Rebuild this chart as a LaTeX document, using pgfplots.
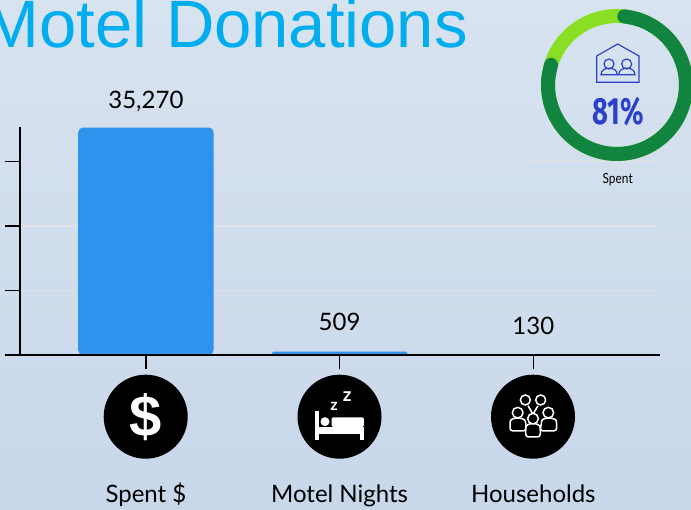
\documentclass[border=0pt]{standalone}
\usepackage{fontspec}
\usepackage{graphicx}
\usepackage{pgfplots}
\pgfplotsset{compat=1.18}
\usepgfplotslibrary{polar}
\setmainfont{Lato}
\newfontfamily\titlefont{Liberation Sans}
\newfontfamily\pctfont{Fira Sans}

\definecolor{bartop}{RGB}{216,227,240}
\definecolor{barbottom}{RGB}{200,215,234}
\definecolor{barblue}{RGB}{46,147,236}
\definecolor{titlecyan}{RGB}{0,174,239}
\definecolor{ringdark}{RGB}{17,132,63}
\definecolor{ringlight}{RGB}{138,222,36}
\definecolor{iconblue}{RGB}{43,66,200}
\definecolor{gridgrey}{RGB}{222,225,230}

\begin{document}
\begin{tikzpicture}
\useasboundingbox (0,0) rectangle (691pt,510pt);
\clip (0,0) rectangle (691pt,510pt);
\shade[top color=bartop,bottom color=barbottom] (0,0) rectangle (691pt,510pt);
\draw[gridgrey,line width=0.6pt] (530pt,349.5pt) -- (660pt,349.5pt);

\node[anchor=base east,text=titlecyan,inner sep=0pt] at (468pt,462pt) {\titlefont\fontsize{67}{67}\selectfont Motel Donations};

% grid underneath
\begin{axis}[
  at={(20pt,155pt)},
  anchor=south west,
  scale only axis,
  width=637pt,
  height=228pt,
  axis line style={draw=none},
  xmin=-0.65,xmax=2.639,
  ymin=0,ymax=35350,
  xtick=\empty,
  ytick={10000,20000,30000},
  yticklabels={},
  scaled y ticks=false,
  ymajorgrids,
  grid style={gridgrey,line width=1.2pt},
  major tick length=0pt,
]
\end{axis}

\begin{axis}[
  axis on top,
  at={(20pt,155pt)},
  anchor=south west,
  scale only axis,
  width=640pt,
  height=228pt,
  axis lines=left,
  axis line style={-,black,line width=1.6pt},
  xmin=-0.65,xmax=2.654,
  ymin=0,ymax=35350,
  xtick={0,1,2},
  xticklabels={Spent \$,Motel Nights,Households},
  ytick={0,10000,20000,30000},
  yticklabels={},
  scaled y ticks=false,
  tick align=outside,
  tick style={black,line width=1.5pt},
  major tick length=14.5pt,
  xticklabel style={font=\fontsize{24}{26}\selectfont,text height=17pt,text depth=5pt,yshift=-112pt},
  nodes near coords,
  nodes near coords style={font=\fontsize{24}{26}\selectfont,black},
  /pgf/number format/assume math mode=true,
  /pgf/number format/1000 sep={,},
  clip=false,
]
\addplot[ybar,bar width=135.5pt,fill=barblue,draw=none,rounded corners=5pt,
  every node near coord/.append style={yshift=12pt}] coordinates {(0,35270)};
\addplot[ybar,bar width=135.5pt,fill=barblue,draw=none,rounded corners=1.5pt,
  every node near coord/.append style={yshift=17pt}] coordinates {(1,509)};
\addplot[ybar,bar width=135.5pt,fill=barblue,draw=none,
  every node near coord/.append style={yshift=16pt}] coordinates {(2,130)};
\end{axis}

% icon discs under the category ticks
\begin{scope}[x=1pt,y=1pt]
\fill[black] (145.7,93.3) circle (42);
\fill[black] (339.5,93.3) circle (42);
\fill[black] (533,93.3) circle (42);
\node[white,inner sep=0pt] at (145.7,93.3) {\titlefont\bfseries\fontsize{58}{58}\selectfont\$};
\end{scope}

% bed
\begin{scope}[shift={(310pt,125pt)},x=0.3333pt,y=-0.3333pt]
\fill[white] (15,78) rectangle (26,165);
\fill[white] (15,125) rectangle (162,147);
\fill[white] (150,147) rectangle (162,165);
\fill[white,rounded corners=1.5pt] (65,126) -- (65,97) -- (162,97) -- (162,126) -- cycle;
\fill[white] (45,110) circle (13.5);
\node[white,inner sep=0pt] at (72,65) {\bfseries\fontsize{16}{16}\selectfont z};
\node[white,inner sep=0pt] at (112,35) {\bfseries\fontsize{19}{19}\selectfont z};
\end{scope}

% people
\begin{scope}[shift={(500pt,125pt)},x=0.3333pt,y=-0.3333pt,line width=1.5pt,draw=white,fill=black]
\draw (76,45) circle (15);
\draw (122,45) circle (15);
\draw (84,62) -- (99,88) -- (114,62);
\filldraw[rounded corners=3pt] (30,138) -- (30,118) .. controls (32,96) and (74,96) .. (78,118) -- (78,138) -- cycle;
\filldraw[rounded corners=3pt] (120,138) -- (124,118) .. controls (126,96) and (168,96) .. (170,118) -- (170,138) -- cycle;
\filldraw (53,83) circle (16);
\filldraw (145,83) circle (16);
\filldraw[rounded corners=3pt] (77,156) -- (77,136) .. controls (79,112) and (119,112) .. (121,136) -- (121,156) -- cycle;
\filldraw (99,101) circle (16);
\end{scope}

% ring: share spent
\begin{polaraxis}[
  at={(617pt,425pt)},
  anchor=center,
  scale only axis,
  width=152pt,
  height=152pt,
  ymin=0,ymax=76,
  hide axis,
  clip=false,
]
\addplot[ringlight,line width=14pt,smooth,no marks] coordinates {
  (0,69)(10,69)(20,69)(30,69)(40,69)(50,69)(60,69)(70,69)(80,69)(90,69)(100,69)(110,69)
  (120,69)(130,69)(140,69)(150,69)(160,69)(170,69)(180,69)(190,69)(200,69)(210,69)(220,69)
  (230,69)(240,69)(250,69)(260,69)(270,69)(280,69)(290,69)(300,69)(310,69)(320,69)(330,69)
  (340,69)(350,69)(360,69)};
\addplot[ringdark,line width=14pt,line cap=round,smooth,no marks] coordinates {
  (84,69)(74,69)(64,69)(54,69)(44,69)(34,69)(24,69)(14,69)(4,69)(-6,69)(-16,69)(-26,69)
  (-36,69)(-46,69)(-56,69)(-66,69)(-76,69)(-86,69)(-96,69)(-106,69)(-116,69)(-126,69)
  (-136,69)(-146,69)(-156,69)(-166,69)(-176,69)(-186,69)(-197,69)};
\end{polaraxis}

% house icon and ring labels
\begin{scope}[shift={(590pt,470pt)},x=0.3333pt,y=-0.3333pt,draw=iconblue,line width=1.2pt]
\draw (20,127) -- (20,48) -- (83,12) -- (147,48) -- (147,127) -- cycle;
\draw (57,72) circle (15);
\draw (110,72) circle (15);
\draw (33,104) .. controls (33,78) and (82,78) .. (82,104) -- cycle;
\draw (86,104) .. controls (86,78) and (135,78) .. (135,104) -- cycle;
\end{scope}
\node[text=iconblue,inner sep=0pt] at (618pt,398pt) {\scalebox{0.72}[1]{\pctfont\bfseries\fontsize{38}{38}\selectfont 81\%}};
\node[inner sep=0pt] at (617.7pt,330pt) {\scalebox{0.85}[1]{\fontsize{14}{14}\selectfont Spent}};
\end{tikzpicture}
\end{document}
